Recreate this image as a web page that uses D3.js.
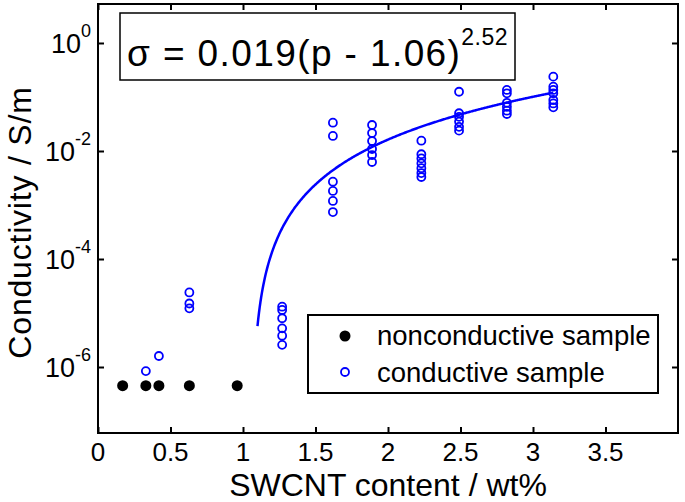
<!DOCTYPE html>
<html>
<head>
<meta charset="utf-8">
<script src="https://cdn.jsdelivr.net/npm/d3@7"></script>
<style>
  html, body { margin: 0; padding: 0; background: #fff; }
  svg { display: block; font-family: "Liberation Sans", Arial, Helvetica, sans-serif; }
</style>
</head>
<body>
<svg id="chart" width="685" height="502"></svg>
<script>
// ---- data ----
const xTicks = [0, 0.5, 1, 1.5, 2, 2.5, 3, 3.5];
const xTickLabels = ["0", "0.5", "1", "1.5", "2", "2.5", "3", "3.5"];
const yTickExponents = [0, -2, -4, -6];

// nonconductive samples (filled black)
const nonX = [0.17, 0.33, 0.42, 0.63, 0.96];
const nonY = [4.5e-7, 4.5e-7, 4.5e-7, 4.5e-7, 4.5e-7];

// conductive samples (open blue circles)
const condX = [
  0.33,
  0.42,
  0.63, 0.63, 0.63,
  1.27, 1.27, 1.27, 1.27, 1.27, 1.27,
  1.62, 1.62, 1.62, 1.62, 1.62, 1.62,
  1.89, 1.89, 1.89, 1.89, 1.89, 1.89,
  2.23, 2.23, 2.23, 2.23, 2.23, 2.23, 2.23,
  2.49, 2.49, 2.49, 2.49, 2.49, 2.49,
  2.82, 2.82, 2.82, 2.82, 2.82, 2.82,
  3.14, 3.14, 3.14, 3.14, 3.14, 3.14, 3.14
];
const condY = [
  8.4e-7,
  1.6e-6,
  2.4e-5, 1.5e-5, 1.22e-5,
  1.31e-5, 1.14e-5, 8.0e-6, 5.2e-6, 3.8e-6, 2.57e-6,
  0.0334, 0.019, 2.7e-3, 1.82e-3, 1.19e-3, 7.4e-4,
  0.0303, 0.0215, 0.0153, 0.0109, 8.4e-3, 6.25e-3,
  0.0155, 8.7e-3, 7.3e-3, 5.9e-3, 4.8e-3, 3.9e-3, 3.3e-3,
  0.125, 0.050, 0.043, 0.035, 0.028, 0.0238,
  0.135, 0.117, 0.078, 0.066, 0.0557, 0.0484,
  0.238, 0.155, 0.135, 0.117, 0.088, 0.076, 0.0645
];

// fitted percolation law shown in the chart: sigma = A (p - pc)^t
const FIT_A = 0.019, FIT_PC = 1.06, FIT_T = 2.52;
const FIT_P_START = 1.10, FIT_P_END = 3.14;

const legendLabels = ["nonconductive sample", "conductive sample"];
const xLabel = "SWCNT content / wt%";
const yLabel = "Conductivity / S/m";

// ---- layout ----
const W = 685, H = 502;
const L = 98, R = 678, T = 4, B = 433;
const svg = d3.select("#chart");
svg.append("rect").attr("width", W).attr("height", H).attr("fill", "#fff");

const x = d3.scaleLinear().domain([0, 4]).range([L, R]);
const y = d3.scaleLog().domain([Math.pow(10, -7.222), Math.pow(10, 0.722)]).range([B, T]);

const BLUE = "#0000ff";
const tickLen = 6;

// axes with inward ticks (matlab style)
const axG = svg.append("g");
axG.append("g").attr("transform", `translate(0,${B})`)
  .call(d3.axisBottom(x).tickValues(xTicks).tickSize(-tickLen).tickFormat(""))
  .call(g => g.select(".domain").remove());
axG.append("g").attr("transform", `translate(0,${T})`)
  .call(d3.axisTop(x).tickValues(xTicks).tickSize(-tickLen).tickFormat(""))
  .call(g => g.select(".domain").remove());
const yTickVals = yTickExponents.map(e => Math.pow(10, e));
axG.append("g").attr("transform", `translate(${L},0)`)
  .call(d3.axisLeft(y).tickValues(yTickVals).tickSize(-tickLen).tickFormat(""))
  .call(g => g.select(".domain").remove());
axG.append("g").attr("transform", `translate(${R},0)`)
  .call(d3.axisRight(y).tickValues(yTickVals).tickSize(-tickLen).tickFormat(""))
  .call(g => g.select(".domain").remove());
axG.selectAll(".tick line").attr("stroke", "#000").attr("stroke-width", 2);

// x tick labels
svg.append("g").selectAll("text").data(xTicks).join("text")
  .attr("x", d => x(d)).attr("y", 461)
  .attr("text-anchor", "middle").attr("font-size", 26).attr("fill", "#000")
  .text((d, i) => xTickLabels[i]);

// y tick labels 10^e
const yl = svg.append("g").selectAll("text").data(yTickExponents).join("text")
  .attr("x", 91).attr("y", d => y(Math.pow(10, d)) + 10)
  .attr("text-anchor", "end").attr("font-size", 27).attr("fill", "#000");
yl.append("tspan").text("10");
yl.append("tspan").attr("dy", -16).attr("font-size", 18).text(d => String(d));

// axis labels
svg.append("text").attr("x", (L + R) / 2).attr("y", 496)
  .attr("text-anchor", "middle").attr("font-size", 32).text(xLabel);
svg.append("text").attr("transform", `translate(31,${(T + B) / 2 + 4}) rotate(-90)`)
  .attr("text-anchor", "middle").attr("font-size", 32)
  .attr("letter-spacing", 0.8).text(yLabel);

// fit curve
const fitP = d3.range(FIT_P_START, FIT_P_END + 1e-9, 0.005);
const line = d3.line().x(p => x(p)).y(p => y(FIT_A * Math.pow(p - FIT_PC, FIT_T)));
svg.append("path").datum(fitP).attr("d", line)
  .attr("fill", "none").attr("stroke", BLUE).attr("stroke-width", 2.5);

// points
svg.append("g").selectAll("circle").data(condX).join("circle")
  .attr("cx", d => x(d)).attr("cy", (d, i) => y(condY[i])).attr("r", 4)
  .attr("fill", "none").attr("stroke", BLUE).attr("stroke-width", 1.8);
svg.append("g").selectAll("circle").data(nonX).join("circle")
  .attr("cx", d => x(d)).attr("cy", (d, i) => y(nonY[i])).attr("r", 5.5)
  .attr("fill", "#000");

// frame
svg.append("rect").attr("x", L).attr("y", T).attr("width", R - L).attr("height", B - T)
  .attr("fill", "none").attr("stroke", "#000").attr("stroke-width", 2);

// equation box
svg.append("rect").attr("x", 120).attr("y", 13).attr("width", 395).attr("height", 67)
  .attr("fill", "#fff").attr("stroke", "#000").attr("stroke-width", 1.5);
const eq = svg.append("text").attr("x", 127).attr("y", 66).attr("font-size", 37)
  .attr("fill", "#000");
eq.append("tspan").attr("letter-spacing", 1.4).text("σ = 0.019(p - 1.06)");
eq.append("tspan").attr("dy", -21).attr("font-size", 23).attr("letter-spacing", 0.5).text("2.52");

// legend
svg.append("rect").attr("x", 308).attr("y", 315).attr("width", 350).attr("height", 78)
  .attr("fill", "#fff").attr("stroke", "#000").attr("stroke-width", 2);
svg.append("circle").attr("cx", 345).attr("cy", 336).attr("r", 5.5).attr("fill", "#000");
svg.append("circle").attr("cx", 345).attr("cy", 372).attr("r", 4)
  .attr("fill", "none").attr("stroke", BLUE).attr("stroke-width", 1.8);
svg.append("text").attr("x", 377).attr("y", 345).attr("font-size", 27.5).text(legendLabels[0]);
svg.append("text").attr("x", 377).attr("y", 382).attr("font-size", 27.5).text(legendLabels[1]);
</script>
</body>
</html>
